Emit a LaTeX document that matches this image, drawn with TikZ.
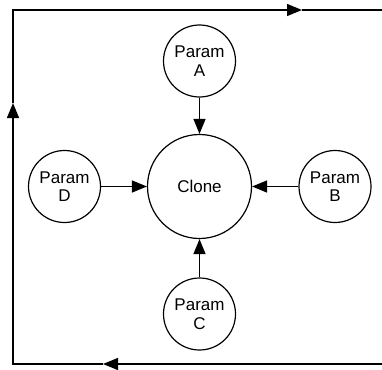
\documentclass[tikz,border=0pt]{standalone}
\usepackage{fontspec}
\setmainfont{Liberation Sans}
\usepackage{tikz}
\usetikzlibrary{positioning,arrows.meta}

\tikzset{
	param/.style={circle, draw, line width=1.2pt, minimum size=72, inner sep=0pt, align=center},
	clone/.style={circle, draw, line width=1.2pt, minimum size=104, inner sep=0pt},
	flow/.style={line width=1.3pt, -{Triangle[length=15pt, width=12pt]}},
	wire/.style={line width=1.3pt}
}

\begin{document}
\begin{tikzpicture}[x=1pt, y=-1pt, font=\fontsize{17}{18.5}\selectfont]
		\useasboundingbox (0,0) rectangle (382,369);
		% centre node and its four parameters
		\node[clone] (clone) at (199.5,186.5) {Clone};
		\node[param] (pa) at (199.5,61) {Param\\A};
		\node[param] (pb) at (335,186.5) {Param\\B};
		\node[param] (pc) at (199.5,314) {Param\\C};
		\node[param] (pd) at (64.5,186.5) {Param\\D};
		\draw[flow] (pa) -- (clone);
		\draw[flow] (pb) -- (clone);
		\draw[flow] (pc) -- (clone);
		\draw[flow] (pd) -- (clone);
		% outer loop (enters bottom right, leaves top right)
		\coordinate (br) at (382,364);
		\coordinate (bl) at (13,364);
		\coordinate (tl) at (13,10);
		\coordinate (tr) at (382,10);
		\coordinate (btip) at (103,364);
		\coordinate (ltip) at (13,103);
		\coordinate (ttip) at (302,10);
		\draw[flow] (br) -- (btip);
		\draw[flow] (btip) -- (bl) -- (ltip);
		\draw[flow] (ltip) -- (tl) -- (ttip);
		\draw[wire] (ttip) -- (tr);
	\end{tikzpicture}
\end{document}
